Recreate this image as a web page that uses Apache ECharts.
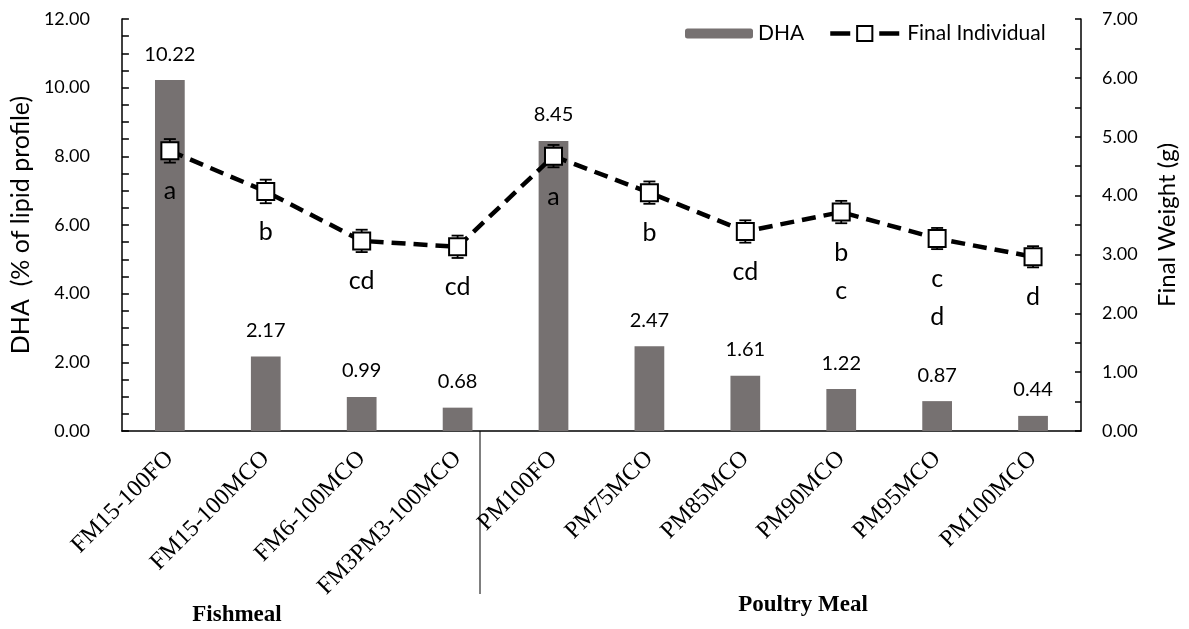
<!DOCTYPE html>
<html>
<head>
<meta charset="utf-8">
<title>DHA and Final Weight by Diet</title>
<script src="https://cdn.jsdelivr.net/npm/echarts@6/dist/echarts.min.js"></script>
<style>
  html, body { margin: 0; padding: 0; background: #fff; }
  #chart { width: 1189px; height: 629px; }
</style>
</head>
<body>
<div id="chart"></div>
<script>
// Diet treatments (fishmeal-based first, then poultry-meal-based)
const categories = ['FM15-100FO', 'FM15-100MCO', 'FM6-100MCO', 'FM3PM3-100MCO',
  'PM100FO', 'PM75MCO', 'PM85MCO', 'PM90MCO', 'PM95MCO', 'PM100MCO'];

// DHA, % of lipid profile (bars, left axis)
const dha = [10.22, 2.17, 0.99, 0.68, 8.45, 2.47, 1.61, 1.22, 0.87, 0.44];

// Final individual weight, g (line, right axis) and its error
const finalWeight = [4.76, 4.07, 3.23, 3.13, 4.67, 4.05, 3.39, 3.72, 3.27, 2.96];
const weightErr = [0.20, 0.20, 0.19, 0.19, 0.19, 0.19, 0.19, 0.19, 0.18, 0.18];

// Significance letters for final weight
const sigLetters = ['a', 'b', 'cd', 'cd', 'a', 'b', 'cd', 'b\nc', 'c\nd', 'd'];

// Axis ranges
const dhaAxis = { min: 0, max: 12, interval: 2 };
const weightAxis = { min: 0, max: 7, interval: 1 };

const SANS = 'Lato';
const SERIF = 'Liberation Serif';

const chart = echarts.init(document.getElementById('chart'), null, { renderer: 'canvas' });

const axisLineStyle = { color: '#000', width: 1.5 };

chart.setOption({
  animation: false,
  backgroundColor: '#fff',
  textStyle: { fontFamily: SANS },
  grid: { left: 121, right: 108, top: 19, bottom: 198, containLabel: false },
  legend: [
    {
      data: ['DHA'],
      left: 685, top: 23, padding: 0,
      itemWidth: 68, itemHeight: 10,
      textStyle: { fontFamily: SANS, fontSize: 21, color: '#000' },
      selectedMode: false
    },
    {
      data: ['Final Individual'],
      left: 828, top: 23, padding: 0,
      itemWidth: 69, itemHeight: 19,
      lineStyle: { type: [20, 29], width: 4.5 },
      textStyle: { fontFamily: SANS, fontSize: 21, color: '#000', padding: [0, 0, 0, 3] },
      selectedMode: false
    }
  ],
  xAxis: {
    type: 'category',
    data: categories,
    axisLine: { lineStyle: axisLineStyle },
    axisTick: { show: false },
    axisLabel: {
      rotate: 45,
      interval: 0,
      margin: 24,
      fontFamily: SERIF,
      fontSize: 24,
      color: '#000'
    },
    splitLine: { show: false }
  },
  yAxis: [
    {
      type: 'value',
      position: 'left',
      min: dhaAxis.min, max: dhaAxis.max, interval: dhaAxis.interval,
      name: 'DHA  (% of lipid profile)',
      nameLocation: 'middle',
      nameGap: 86,
      nameTextStyle: { fontFamily: SANS, fontSize: 25, color: '#000' },
      axisLine: { show: true, lineStyle: axisLineStyle },
      axisTick: { show: true, inside: true, length: 7, lineStyle: { color: '#000', width: 1.5 } },
      minorTick: { show: true, splitNumber: 4, length: 7, lineStyle: { color: '#000', width: 1.5 } },
      axisLabel: {
        margin: 32,
        fontFamily: SANS, fontSize: 18, color: '#000',
        formatter: v => v.toFixed(2)
      },
      splitLine: { show: false }
    },
    {
      type: 'value',
      position: 'right',
      min: weightAxis.min, max: weightAxis.max, interval: weightAxis.interval,
      name: 'Final Weight (g)',
      nameLocation: 'middle',
      nameGap: 74,
      nameRotate: 90,
      nameTextStyle: { fontFamily: SANS, fontSize: 24, color: '#000' },
      axisLine: { show: true, lineStyle: axisLineStyle },
      axisTick: { show: true, inside: true, length: 6, lineStyle: { color: '#000', width: 1.5 } },
      minorTick: { show: true, splitNumber: 2, length: 6, lineStyle: { color: '#000', width: 1.5 } },
      axisLabel: {
        margin: 21,
        fontFamily: SANS, fontSize: 18, color: '#000',
        formatter: v => v.toFixed(2)
      },
      splitLine: { show: false }
    }
  ],
  series: [
    {
      name: 'DHA',
      type: 'bar',
      yAxisIndex: 0,
      data: dha,
      barWidth: '31%',
      itemStyle: { color: '#767171' },
      label: {
        show: true,
        position: 'top',
        distance: 16,
        fontFamily: SANS, fontSize: 20, color: '#000',
        formatter: p => p.value.toFixed(2)
      },
      z: 1
    },
    {
      name: 'Final Individual error',
      type: 'custom',
      yAxisIndex: 1,
      data: categories.map((c, i) => [i, finalWeight[i], weightErr[i]]),
      renderItem: (params, api) => {
        const i = api.value(0);
        const v = api.value(1);
        const e = api.value(2);
        const hi = api.coord([i, v + e]);
        const lo = api.coord([i, v - e]);
        const cap = 6;
        const st = { stroke: '#000', lineWidth: 1.8 };
        return {
          type: 'group',
          children: [
            { type: 'line', shape: { x1: hi[0], y1: hi[1], x2: lo[0], y2: lo[1] }, style: st },
            { type: 'line', shape: { x1: hi[0] - cap, y1: hi[1], x2: hi[0] + cap, y2: hi[1] }, style: st },
            { type: 'line', shape: { x1: lo[0] - cap, y1: lo[1], x2: lo[0] + cap, y2: lo[1] }, style: st }
          ]
        };
      },
      silent: true,
      z: 3
    },
    {
      name: 'Final Individual',
      type: 'line',
      yAxisIndex: 1,
      data: finalWeight,
      symbol: 'rect',
      symbolSize: 17,
      itemStyle: { color: '#fff', borderColor: '#000', borderWidth: 2 },
      lineStyle: { color: '#000', width: 4.5, type: [14, 8] },
      label: {
        show: true,
        position: 'bottom',
        distance: 12,
        lineHeight: 38,
        fontFamily: SANS, fontSize: 25, color: '#000',
        formatter: p => sigLetters[p.dataIndex]
      },
      z: 4
    }
  ],
  graphic: [
    {
      type: 'line',
      shape: { x1: 480, y1: 431, x2: 480, y2: 594 },
      style: { stroke: '#000', lineWidth: 1 },
      z: 10
    },
    {
      type: 'text',
      x: 237, y: 615,
      style: {
        text: 'Fishmeal',
        font: 'bold 23px "Liberation Serif"',
        fill: '#000',
        align: 'center',
        verticalAlign: 'middle'
      }
    },
    {
      type: 'text',
      x: 803, y: 605,
      style: {
        text: 'Poultry Meal',
        font: 'bold 23px "Liberation Serif"',
        fill: '#000',
        align: 'center',
        verticalAlign: 'middle'
      }
    }
  ]
});
</script>
</body>
</html>
